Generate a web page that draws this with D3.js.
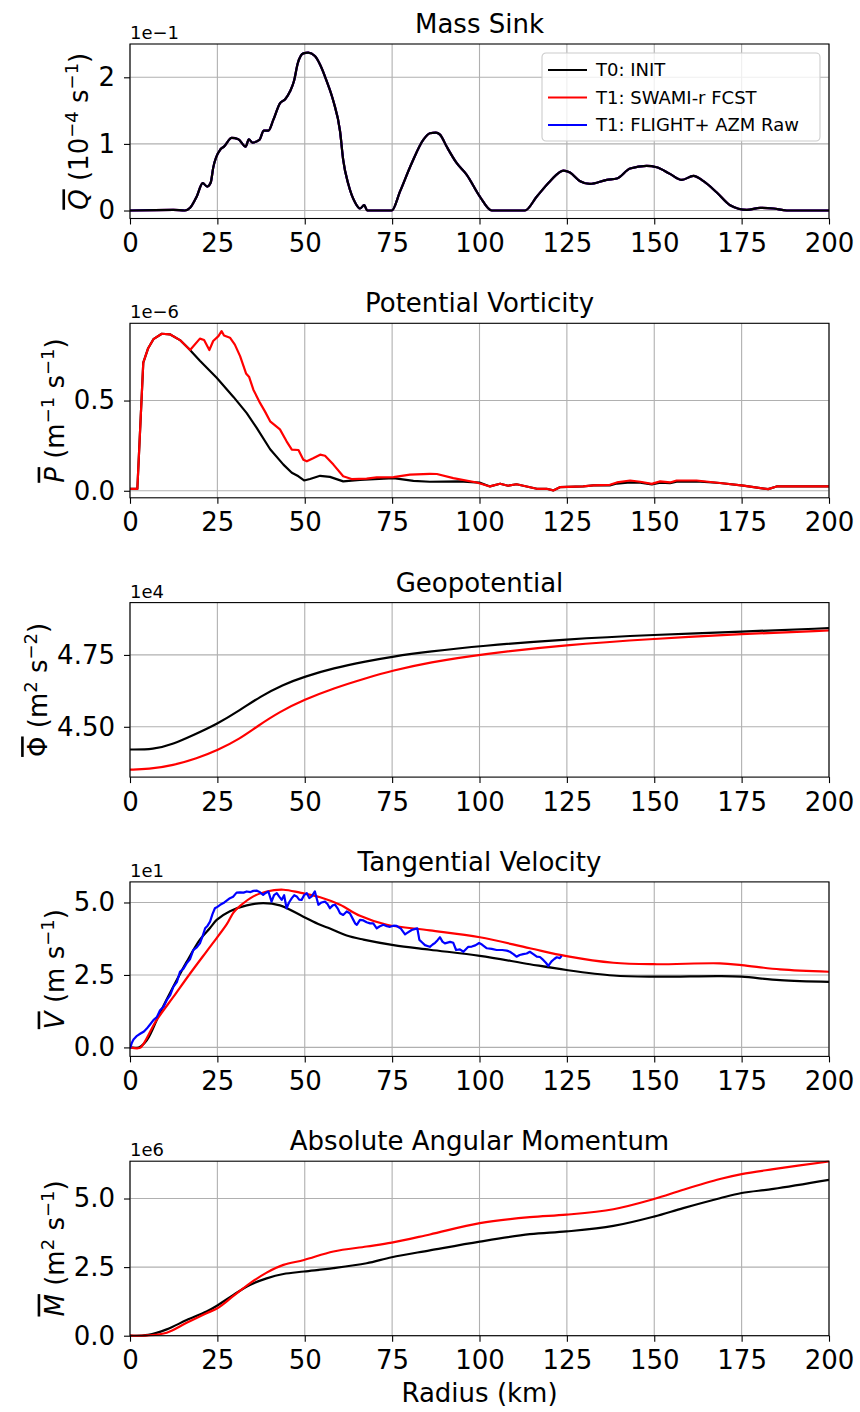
<!DOCTYPE html>
<html>
<head>
<meta charset="utf-8">
<script src="https://cdn.jsdelivr.net/npm/d3@7"></script>
<style>
  body { margin: 0; background: #fff; }
  svg { display: block; font-family: "DejaVu Sans", sans-serif; }
</style>
</head>
<body>
<div class="visHolder"></div>
<script>
const w = 860;
const h = 1412;
const left = 130;
const right = 829;

// data (y values in units of the offset shown above each axis)
const radiusTicks = [0, 25, 50, 75, 100, 125, 150, 175, 200];

const qSink = [[0,0],[12.4,0.01],[15.7,0],[17.2,0.04],[19.1,0.21],[20.8,0.41],[22.1,0.36],[23.1,0.42],[23.8,0.64],[25.9,0.92],[26.9,0.96],[29.1,1.09],[31.0,1.07],[33.1,0.96],[34.0,1.07],[35.0,1.02],[37.0,1.06],[38.3,1.20],[39.6,1.20],[41.0,1.36],[42.9,1.61],[44.4,1.67],[45.8,1.79],[46.9,1.94],[48.0,2.21],[49.6,2.36],[51.0,2.37],[52.9,2.32],[54.4,2.19],[56.3,1.94],[58.2,1.64],[60.1,1.19],[61.0,0.76],[62.5,0.39],[64.4,0.12],[65.8,0.03],[67.0,0.08],[67.9,0],[74.9,0],[77.3,0.29],[80.6,0.71],[83.9,1.06],[85.8,1.16],[87.5,1.17],[88.7,1.14],[90.6,0.96],[93.5,0.71],[96.3,0.54],[100.1,0.21],[103.5,0],[113.0,0],[116.4,0.21],[120.2,0.44],[124.0,0.60],[125.9,0.57],[128.8,0.44],[131.6,0.40],[136.4,0.46],[139.3,0.48],[143.1,0.63],[147.8,0.67],[150.7,0.65],[154.5,0.55],[157.9,0.46],[161.2,0.52],[164.1,0.44],[167.9,0.27],[171.7,0.08],[176.5,0.01],[180.3,0.04],[184.1,0.03],[187.9,0],[200,0]];

const pvInit = [[0,0.01],[2.1,0.01],[3.8,0.71],[5.2,0.79],[6.7,0.84],[9.1,0.87],[11.4,0.867],[14.3,0.835],[16.7,0.79],[20.0,0.72],[24.8,0.626],[29.6,0.52],[33.4,0.43],[36.2,0.35],[40.1,0.23],[43.9,0.145],[46.3,0.10],[48.2,0.08],[49.8,0.057],[51.5,0.065],[54.4,0.083],[57.2,0.077],[61.0,0.052],[65.8,0.06],[75.4,0.07],[81.1,0.055],[85.8,0.05],[94.3,0.052],[100,0.045],[103.0,0.024],[105.9,0.039],[108.2,0.028],[110.6,0.036],[116.4,0.011],[119.2,0.011],[121.1,0.002],[123.0,0.02],[129.7,0.024],[132.6,0.03],[137.3,0.03],[139.3,0.04],[143.1,0.046],[146.0,0.045],[149.3,0.035],[151.7,0.045],[154.5,0.042],[156.4,0.05],[162.1,0.052],[168.8,0.043],[175.5,0.028],[182.6,0.009],[185.0,0.024],[200,0.024]];
const pvFcst = [[0,0.01],[2.1,0.01],[3.8,0.71],[5.2,0.79],[6.7,0.84],[9.1,0.87],[11.4,0.867],[14.3,0.835],[17.2,0.78],[20.0,0.843],[21.2,0.835],[22.7,0.78],[23.8,0.83],[25.3,0.857],[26.2,0.885],[26.9,0.86],[28.6,0.848],[30.0,0.81],[31.5,0.746],[33.2,0.65],[34.1,0.63],[35.3,0.56],[37.2,0.487],[38.6,0.44],[40.1,0.385],[42.9,0.34],[44.8,0.274],[46.3,0.228],[48.2,0.226],[49.6,0.172],[50.6,0.163],[52.4,0.18],[54.4,0.20],[55.8,0.194],[58.2,0.145],[61.0,0.08],[63.4,0.065],[67.7,0.067],[70.6,0.074],[75.4,0.076],[80.1,0.089],[85.8,0.094],[87.8,0.093],[92.5,0.07],[99.2,0.046],[103.0,0.024],[105.9,0.039],[108.2,0.028],[110.6,0.036],[116.4,0.011],[119.2,0.011],[121.1,0.002],[123.0,0.02],[129.7,0.024],[132.6,0.03],[137.3,0.033],[139.3,0.046],[143.1,0.057],[146.0,0.05],[149.3,0.038],[151.7,0.052],[154.5,0.046],[156.4,0.057],[162.1,0.057],[168.8,0.043],[175.5,0.028],[182.6,0.009],[185.0,0.024],[200,0.024]];

const phiInit = [[0,4.421],[6.7,4.421],[12.4,4.440],[18.1,4.471],[25.0,4.510],[31.5,4.558],[37.2,4.605],[43.9,4.647],[49.8,4.674],[58.2,4.704],[67.7,4.728],[74.9,4.744],[85.8,4.762],[100.1,4.781],[124.9,4.805],[149.9,4.820],[175,4.831],[200,4.843]];
const phiFcst = [[0,4.351],[5.2,4.352],[12.4,4.366],[19.1,4.390],[25.0,4.418],[31.5,4.459],[36.2,4.500],[42.9,4.553],[49.8,4.594],[58.2,4.634],[67.7,4.670],[74.9,4.695],[85.8,4.724],[100.1,4.752],[124.9,4.785],[149.9,4.806],[175,4.823],[200,4.835]];

const vInit = [[0,0],[2.5,0],[4.8,0.24],[8.6,1.2],[12.4,2.1],[16.2,2.95],[20.0,3.72],[22.9,4.12],[24.8,4.40],[28.6,4.70],[33.4,4.90],[38.1,4.98],[42.9,4.90],[49.6,4.51],[54.4,4.23],[57.2,4.10],[62.0,3.86],[66.8,3.72],[75.4,3.53],[85.8,3.37],[100.1,3.16],[114.4,2.87],[124.9,2.67],[138.3,2.48],[149.9,2.44],[168.8,2.46],[175,2.44],[186,2.32],[200,2.26]];
const vFcst = [[0,0],[2.1,-0.03],[3.1,0],[7.6,0.94],[12.4,1.74],[17.2,2.55],[22.9,3.47],[27.7,4.25],[29.6,4.65],[31.5,4.88],[35.3,5.21],[39.1,5.38],[43.9,5.44],[48.6,5.34],[54.4,5.18],[60.1,4.92],[65.8,4.54],[73.5,4.23],[85.8,4.04],[100.1,3.80],[114.4,3.42],[124.9,3.15],[138.3,2.92],[149.9,2.87],[168.8,2.90],[175,2.84],[186,2.69],[200,2.61]];
const vFlight = [[0,-0.03],[0.5,0.15],[1.0,0.27],[2.0,0.40],[2.9,0.47],[4.0,0.55],[4.8,0.65],[5.8,0.80],[6.7,0.94],[7.7,1.05],[8.6,1.28],[9.6,1.40],[10.5,1.63],[11.5,1.80],[12.4,2.09],[13.4,2.25],[14.3,2.61],[15.3,2.72],[16.2,2.90],[17.2,3.05],[18.1,3.36],[19.1,3.45],[20.0,3.59],[20.8,3.85],[21.5,4.11],[22.2,4.20],[22.9,4.34],[23.6,4.60],[24.3,4.80],[25.0,4.85],[25.8,4.92],[27.0,5.00],[28.6,5.15],[29.5,5.20],[30.5,5.34],[31.5,5.35],[32.5,5.34],[33.4,5.38],[34.5,5.36],[35.3,5.40],[36.2,5.41],[37.2,5.35],[38.1,5.26],[38.8,5.33],[39.6,5.38],[40.5,5.03],[41.2,5.25],[42.0,5.32],[42.7,5.20],[43.4,5.09],[44.1,5.25],[44.8,4.80],[45.5,5.00],[46.3,5.15],[47.0,5.25],[47.7,5.21],[48.4,5.10],[49.1,5.09],[49.8,5.25],[50.6,5.32],[51.3,5.15],[52.0,5.21],[52.9,5.38],[53.9,4.92],[54.8,5.00],[55.8,5.03],[56.5,4.95],[57.2,4.80],[58.0,4.90],[58.7,4.92],[59.4,4.80],[60.1,4.63],[61.0,4.57],[62.0,4.69],[62.9,4.63],[63.9,4.40],[64.4,4.28],[64.9,4.23],[65.8,4.40],[66.8,4.38],[67.7,4.32],[68.7,4.28],[69.6,4.28],[70.6,4.11],[71.5,4.18],[72.5,4.23],[73.5,4.18],[74.4,4.16],[75.4,4.20],[76.3,4.19],[77.5,4.10],[78.7,3.90],[79.2,3.94],[80.6,4.05],[81.4,4.08],[82.2,4.11],[82.8,3.71],[83.6,3.62],[84.4,3.53],[85.1,3.50],[85.8,3.47],[86.6,3.55],[87.3,3.61],[88.0,3.70],[88.7,3.80],[89.4,3.65],[90.1,3.59],[91.6,3.64],[92.5,3.61],[93.3,3.36],[94.4,3.38],[95.4,3.30],[96.8,3.47],[97.8,3.48],[98.8,3.52],[99.9,3.60],[100.7,3.55],[102.1,3.42],[103.5,3.40],[104.9,3.36],[106.5,3.36],[107.8,3.34],[108.7,3.30],[109.7,3.22],[110.6,3.13],[111.5,3.19],[112.5,3.22],[113.5,3.24],[114.4,3.30],[115.4,3.22],[116.4,3.13],[117.3,3.12],[118.3,3.01],[119.0,2.92],[119.7,2.81],[120.2,2.90],[120.7,2.98],[121.4,3.05],[122.1,3.11],[123.0,3.08],[123.5,3.16]];

const mInit = [[0,0],[5.2,0.03],[10.5,0.23],[16.2,0.57],[21.9,0.88],[25.0,1.10],[29.6,1.49],[34.3,1.85],[39.1,2.09],[43.9,2.25],[49.8,2.34],[58.2,2.46],[67.7,2.64],[74.9,2.86],[85.8,3.11],[100.1,3.43],[114.4,3.70],[124.9,3.80],[138.3,4.00],[149.9,4.34],[158.3,4.65],[168.8,5.01],[175,5.20],[184.1,5.35],[200,5.68]];
const mFcst = [[0,0],[5.2,0.01],[10.5,0.11],[16.2,0.47],[21.9,0.82],[25.0,1.00],[29.6,1.45],[34.3,1.91],[39.1,2.30],[43.9,2.58],[49.8,2.76],[58.2,3.07],[67.7,3.25],[74.9,3.39],[85.8,3.69],[100.1,4.10],[114.4,4.32],[124.9,4.41],[138.3,4.61],[149.9,4.98],[158.3,5.32],[168.8,5.71],[175,5.89],[184.1,6.07],[200,6.35]];

const legendLabels = ['T0: INIT', 'T1: SWAMI-r FCST', 'T1: FLIGHT+ AZM Raw'];
const colors = ['#000000', '#ff0000', '#0000ff'];

const smooth = d3.curveCatmullRom.alpha(0.5);
const mono = d3.curveMonotoneX;
const sharp = d3.curveLinear;

const panels = [
  {title: 'Mass Sink', offset: '1e\u22121', domain: [-0.12, 2.5], ticks: [0, 1, 2], fmt: d3.format('d'),
   label: [['Q', 'v'], [' (10'], ['\u22124', 's'], [' s'], ['\u22121', 's'], [')']],
   series: [[qSink, 1, mono], [qSink, 2, mono], [qSink, 0, mono]], legend: true},
  {title: 'Potential Vorticity', offset: '1e\u22126', domain: [-0.039, 0.928], ticks: [0, 0.5], fmt: d3.format('.1f'),
   label: [['P', 'v'], [' (m'], ['\u22121', 's'], [' s'], ['\u22121', 's'], [')']],
   series: [[pvInit, 0, sharp], [pvFcst, 1, sharp]]},
  {title: 'Geopotential', offset: '1e4', domain: [4.325, 4.932], ticks: [4.5, 4.75], fmt: d3.format('.2f'),
   label: [['\u03a6', 'o'], [' (m'], ['2', 's'], [' s'], ['\u22122', 's'], [')']],
   series: [[phiInit, 0, d3.curveBasis], [phiFcst, 1, d3.curveBasis]]},
  {title: 'Tangential Velocity', offset: '1e1', domain: [-0.31, 5.71], ticks: [0, 2.5, 5], fmt: d3.format('.1f'),
   label: [['V', 'v'], [' (m s'], ['\u22121', 's'], [')']],
   series: [[vInit, 0, smooth], [vFcst, 1, smooth], [vFlight, 2, sharp]]},
  {title: 'Absolute Angular Momentum', offset: '1e6', domain: [0, 6.36], ticks: [0, 2.5, 5], fmt: d3.format('.1f'),
   label: [['M', 'v'], [' (m'], ['2', 's'], [' s'], ['\u22121', 's'], [')']],
   series: [[mInit, 0, smooth], [mFcst, 1, smooth]]}
];

const svg = d3.select('.visHolder').append('svg').attr('width', w).attr('height', h);

const xScale = d3.scaleLinear().domain([0, 200]).range([left, right]);
const ph = 174.5;
const fs = 26;

panels.forEach(function(p, i) {
  const top = 44 + i * 279.3;
  const bottom = top + ph;
  const yScale = d3.scaleLinear().domain(p.domain).range([bottom, top]);
  const g = svg.append('g');

  // grid
  g.selectAll('.gx').data(radiusTicks).enter().append('line')
    .attr('x1', d => xScale(d)).attr('x2', d => xScale(d))
    .attr('y1', top).attr('y2', bottom)
    .attr('stroke', '#b0b0b0').attr('stroke-width', 1.1);
  g.selectAll('.gy').data(p.ticks).enter().append('line')
    .attr('x1', left).attr('x2', right)
    .attr('y1', d => yScale(d)).attr('y2', d => yScale(d))
    .attr('stroke', '#b0b0b0').attr('stroke-width', 1.1);

  // lines
  const clipId = 'clip' + i;
  svg.append('clipPath').attr('id', clipId).append('rect')
    .attr('x', left).attr('y', top - 2).attr('width', right - left).attr('height', ph + 4);
  p.series.forEach(function(s) {
    const line = d3.line().x(d => xScale(d[0])).y(d => yScale(d[1])).curve(s[2]);
    g.append('path').datum(s[0]).attr('d', line)
      .attr('fill', 'none').attr('stroke', colors[s[1]]).attr('stroke-width', 2.2)
      .attr('stroke-linejoin', 'round').attr('clip-path', 'url(#' + clipId + ')');
  });

  // frame
  g.append('rect').attr('x', left).attr('y', top).attr('width', right - left).attr('height', ph)
    .attr('fill', 'none').attr('stroke', '#000').attr('stroke-width', 1.1);

  // axes
  const xa = g.append('g').attr('transform', 'translate(0,' + bottom + ')')
    .call(d3.axisBottom(xScale).tickValues(radiusTicks).tickSize(6).tickPadding(9).tickFormat(d3.format('d')));
  const ya = g.append('g').attr('transform', 'translate(' + left + ',0)')
    .call(d3.axisLeft(yScale).tickValues(p.ticks).tickSize(6).tickPadding(9).tickFormat(p.fmt));
  [xa, ya].forEach(function(a) {
    a.select('.domain').remove();
    a.selectAll('line').attr('stroke', '#000').attr('stroke-width', 1.1);
    a.selectAll('text').attr('font-size', fs).attr('font-family', '"DejaVu Sans"').attr('fill', '#000');
  });

  // title + offset text
  g.append('text').attr('x', (left + right) / 2).attr('y', top - 11)
    .attr('text-anchor', 'middle').attr('font-size', fs).text(p.title);
  g.append('text').attr('x', left).attr('y', top - 5)
    .attr('font-size', 18).text(p.offset);

  // y label
  const minX = d3.min(ya.selectAll('text').nodes(), n => n.getBBox().x) + left;
  const lx = minX - 10;
  const yl = g.append('text').attr('transform', 'translate(' + lx + ',' + ((top + bottom) / 2) + ') rotate(-90)')
    .attr('text-anchor', 'middle').attr('font-size', fs);
  let shifted = false;
  p.label.forEach(function(part) {
    const t = yl.append('tspan').text(part[0]);
    if (part[1] === 'v' || part[1] === 'o') {
      t.style('text-decoration', 'overline');
      if (part[1] === 'v') t.attr('font-style', 'italic');
    }
    if (part[1] === 's') {
      t.attr('font-size', 18).attr('dy', -10);
      shifted = true;
    } else if (shifted) {
      t.attr('dy', 10);
      shifted = false;
    }
  });

  // legend
  if (p.legend) {
    const lg = g.append('g').attr('transform', 'translate(' + (right - 287) + ',' + (top + 9) + ')');
    lg.append('rect').attr('width', 278).attr('height', 88).attr('rx', 4)
      .attr('fill', '#fff').attr('fill-opacity', 0.8).attr('stroke', '#cccccc').attr('stroke-width', 1.1);
    legendLabels.forEach(function(lab, k) {
      const yy = 17 + k * 27.5;
      lg.append('line').attr('x1', 6).attr('x2', 45).attr('y1', yy).attr('y2', yy)
        .attr('stroke', colors[k]).attr('stroke-width', 2.2);
      lg.append('text').attr('x', 54).attr('y', yy + 6).attr('font-size', 18).text(lab);
    });
  }
});

svg.append('text').attr('x', (left + right) / 2).attr('y', 1402)
  .attr('text-anchor', 'middle').attr('font-size', fs).text('Radius (km)');
</script>
</body>
</html>
